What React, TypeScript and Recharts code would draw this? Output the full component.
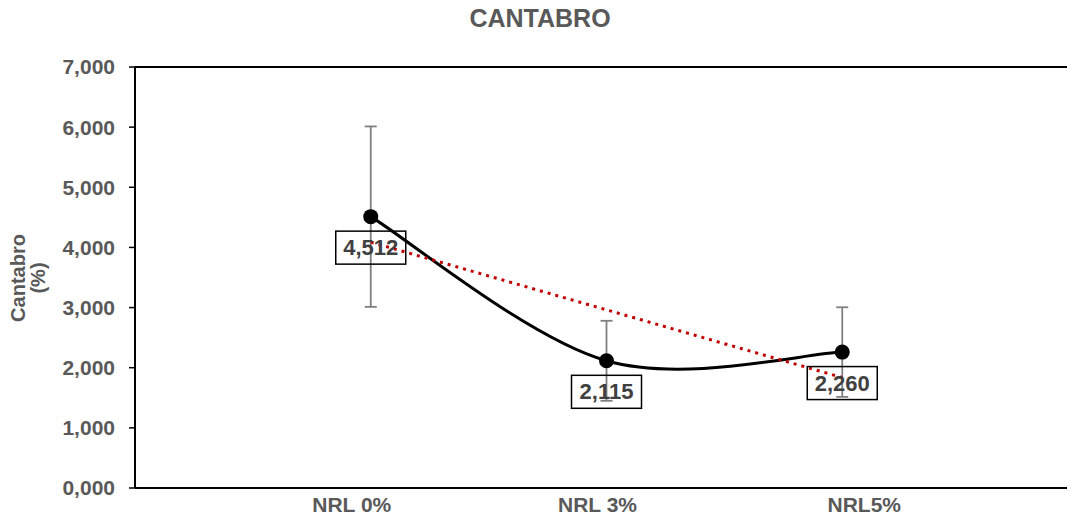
import { ErrorBar, LabelList, Line, LineChart, ReferenceLine, XAxis, YAxis } from "recharts";

const categories = ["NRL 0%", "NRL 3%", "NRL5%"];
const cantabro = [4.512, 2.115, 2.26];
const deviations = [1.5, 0.665, 0.745];
const yTicks = [0, 1, 2, 3, 4, 5, 6, 7];

const FONT = '"Liberation Sans", Arial, sans-serif';
const GREY = "#595959";
// the category labels in the original sit a little off their points
const tickShift = [-19, -9, 22];

// linear trend (least squares) over the category positions, as Excel draws it
const xs = categories.map((_, i) => i + 1);
const meanX = xs.reduce((a, b) => a + b, 0) / xs.length;
const meanY = cantabro.reduce((a, b) => a + b, 0) / cantabro.length;
const slope =
  xs.reduce((s, x, i) => s + (x - meanX) * (cantabro[i] - meanY), 0) /
  xs.reduce((s, x) => s + (x - meanX) ** 2, 0);
const intercept = meanY - slope * meanX;

const rows = categories.map((name, i) => ({
  x: i + 1,
  name,
  value: cantabro[i],
  err: deviations[i],
  trend: intercept + slope * (i + 1)
}));

const fmt = (v: number) => v.toFixed(3).replace(".", ",");

// Excel-style smoothed line: bezier segments with tangents (P[i+1] - P[i-1]) / 6
function excelSmooth(context: any) {
  let pts: Array<[number, number]> = [];
  return {
    areaStart() {},
    areaEnd() {},
    lineStart() {
      pts = [];
    },
    point(x: number, y: number) {
      pts.push([+x, +y]);
    },
    lineEnd() {
      if (!pts.length) return;
      context.moveTo(pts[0][0], pts[0][1]);
      for (let i = 0; i < pts.length - 1; i += 1) {
        const p0 = pts[i - 1] ?? pts[i];
        const p1 = pts[i];
        const p2 = pts[i + 1];
        const p3 = pts[i + 2] ?? pts[i + 1];
        context.bezierCurveTo(
          p1[0] + (p2[0] - p0[0]) / 6,
          p1[1] + (p2[1] - p0[1]) / 6,
          p2[0] - (p3[0] - p1[0]) / 6,
          p2[1] - (p3[1] - p1[1]) / 6,
          p2[0],
          p2[1]
        );
      }
    }
  };
}

function CategoryTick(props: any) {
  const { x, y, payload } = props;
  const i = payload.value - 1;
  return (
    <text
      x={x + (tickShift[i] ?? 0)}
      y={y + 16}
      textAnchor="middle"
      fontFamily={FONT}
      fontWeight="bold"
      fontSize={21}
      fill={GREY}
    >
      {categories[i] ?? ""}
    </text>
  );
}

function ValueLabel(props: any) {
  const { x, y, value } = props;
  const cy = y + 31;
  return (
    <g>
      <rect x={x - 35} y={cy - 16.5} width={70} height={33} fill="none" stroke="#000" strokeWidth={1.5} />
      <text
        x={x}
        y={cy}
        textAnchor="middle"
        dominantBaseline="central"
        fontFamily={FONT}
        fontWeight="bold"
        fontSize={22}
        fill="#404040"
      >
        {fmt(value)}
      </text>
    </g>
  );
}

function AxisTitle() {
  return (
    <text transform="translate(28,278) rotate(-90)" textAnchor="middle" fontFamily={FONT} fontWeight="bold" fontSize={20} fill={GREY}>
      <tspan x={0} dy={-3}>Cantabro</tspan>
      <tspan x={0} dy={20}>(%)</tspan>
    </text>
  );
}

export default function App() {
  return (
    <div
      style={{
        position: "absolute",
        left: 0,
        top: 0,
        width: 1067,
        height: 518,
        overflow: "hidden",
        background: "#fff",
        fontFamily: FONT
      }}
    >
      <div
        style={{
          position: "absolute",
          left: 0,
          width: 1080,
          top: 4,
          textAlign: "center",
          fontSize: 25,
          fontWeight: "bold",
          color: GREY
        }}
      >
        CANTABRO
      </div>
      <LineChart width={1100} height={518} data={rows} margin={{ top: 67, right: 22, left: 0, bottom: 0 }}>
        <XAxis
          type="number"
          dataKey="x"
          domain={[0, 4]}
          ticks={[1, 2, 3]}
          height={30}
          tickLine={false}
          axisLine={{ stroke: "#000", strokeWidth: 2 }}
          tick={<CategoryTick />}
        />
        <YAxis
          type="number"
          domain={[0, 7]}
          ticks={yTicks}
          width={135}
          tickFormatter={fmt}
          tickSize={6}
          tickMargin={14}
          tickLine={{ stroke: "#000", strokeWidth: 1.5 }}
          axisLine={{ stroke: "#000", strokeWidth: 2 }}
          tick={{ fill: GREY, fontSize: 21, fontWeight: "bold", fontFamily: FONT }}
          label={{ content: () => <AxisTitle /> }}
        />
        <ReferenceLine y={7} stroke="#000" strokeWidth={2} />
        <Line
          type={excelSmooth as any}
          dataKey="value"
          stroke="#000"
          strokeWidth={3}
          dot={{ r: 7.5, fill: "#000", stroke: "#000", strokeWidth: 0 }}
          activeDot={false}
          isAnimationActive={false}
        >
          <ErrorBar dataKey="err" direction="y" width={6} stroke="#7f7f7f" strokeWidth={1.8} />
          <LabelList dataKey="value" content={ValueLabel} />
        </Line>
        <Line
          type="linear"
          dataKey="trend"
          stroke="#c00000"
          strokeWidth={3}
          strokeDasharray="3 5"
          dot={false}
          activeDot={false}
          isAnimationActive={false}
        />
      </LineChart>
    </div>
  );
}
